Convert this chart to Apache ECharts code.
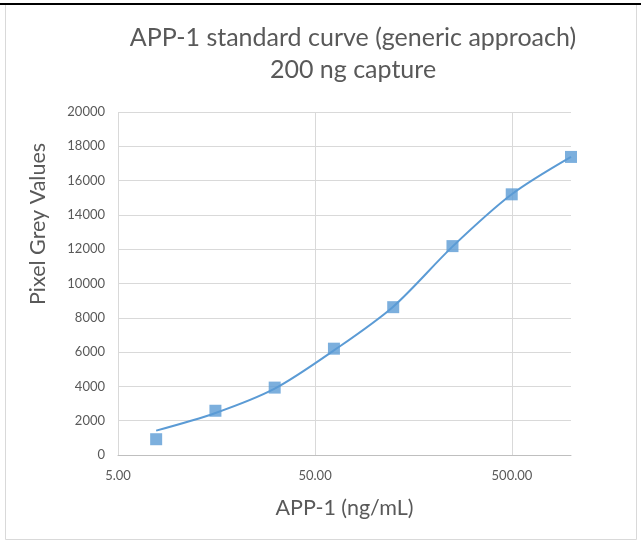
<!DOCTYPE html>
<html>
<head>
<meta charset="utf-8">
<script src="https://cdn.jsdelivr.net/npm/echarts@6/dist/echarts.min.js"></script>
<style>
html,body{margin:0;padding:0;background:#fff;}
#chart{width:641px;height:545px;}
</style>
</head>
<body>
<div id="chart"></div>
<script>
// Standard points (APP-1 concentration, ng/mL) and measured pixel grey values
var concentrations = [7.8125, 15.625, 31.25, 62.5, 125, 250, 500, 1000];
var greyValues = [920, 2580, 3930, 6200, 8620, 12180, 15200, 17380];
// Fitted curve
var curveX = [7.8125, 15.625, 31.25, 62.5, 125, 250, 500, 1000];
var curveY = [1420, 2450, 3870, 6100, 8650, 12150, 15200, 17380];
// Axis ticks
var xTicks = [5, 50, 500];
var yMin = 0, yMax = 20000, yStep = 2000;

var FONT = 'Lato';
var GREY = '#595959';
var BLUE = '#5b9bd5';

var chart = echarts.init(document.getElementById('chart'), null, {renderer: 'canvas'});
chart.setOption({
  animation: false,
  backgroundColor: '#fff',
  title: {
    text: 'APP-1 standard curve (generic approach)\n200 ng capture',
    left: 348, top: 17, textAlign: 'center',
    textStyle: {fontFamily: FONT, fontSize: 25, fontWeight: 'normal', color: GREY, lineHeight: 32}
  },
  grid: {left: 118, right: 70, top: 112, bottom: 90, containLabel: false},
  xAxis: {
    type: 'log', logBase: 10, min: xTicks[0], max: 1000, interval: 1,
    axisLine: {show: true, lineStyle: {color: '#bfbfbf', width: 1}},
    axisTick: {show: false},
    splitLine: {show: true, showMaxLine: false, lineStyle: {color: '#d9d9d9', width: 1}},
    axisLabel: {
      showMaxLabel: false, margin: 14,
      fontFamily: FONT, fontSize: 13, color: GREY,
      formatter: function (v) { return Number(Number(v).toPrecision(2)).toFixed(2); }
    },
    name: 'APP-1 (ng/mL)', nameLocation: 'middle', nameGap: 42,
    nameTextStyle: {fontFamily: FONT, fontSize: 21.5, color: GREY}
  },
  yAxis: {
    type: 'value', min: yMin, max: yMax, interval: yStep,
    axisLine: {show: false},
    axisTick: {show: false},
    splitLine: {show: true, lineStyle: {color: '#d9d9d9', width: 1}},
    axisLabel: {
      margin: 13, fontFamily: FONT, fontSize: 13, color: GREY,
      formatter: function (v) { return String(v); }
    }
  },
  graphic: [
    {type: 'rect', shape: {x: 5.5, y: 4.5, width: 631, height: 535}, style: {fill: 'none', stroke: '#d9d9d9', lineWidth: 1}, z: -1},
    {type: 'line', shape: {x1: 0, y1: 4, x2: 641, y2: 4}, style: {stroke: '#000', lineWidth: 2}},
    {type: 'text', x: 38, y: 224, rotation: Math.PI / 2,
     style: {text: 'Pixel Grey Values', fontFamily: FONT, fontSize: 21.5, fill: GREY, textAlign: 'center', textVerticalAlign: 'middle'}}
  ],
  series: [
    {
      type: 'line', smooth: 0.3, showSymbol: false,
      data: curveX.map(function (x, i) { return [x, curveY[i]]; }),
      lineStyle: {color: BLUE, width: 2}, z: 2
    },
    {
      type: 'scatter', symbol: 'rect', symbolSize: 12,
      data: concentrations.map(function (x, i) { return [x, greyValues[i]]; }),
      itemStyle: {color: BLUE}, z: 3
    }
  ]
});
</script>
</body>
</html>
